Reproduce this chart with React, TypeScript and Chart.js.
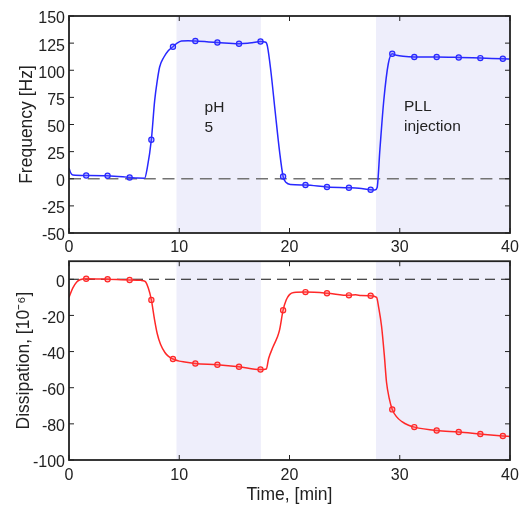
import React, { useEffect, useRef } from 'react';
import { Chart, registerables } from 'chart.js';
Chart.register(...registerables);

// ---------- data ----------
const xTicks = [0, 10, 20, 30, 40];
const freqTicks = [150, 125, 100, 75, 50, 25, 0, -25, -50];
const dissTicks = [0, -20, -40, -60, -80, -100];

const shadeStarts = [9.75, 27.85];
const shadeEnds = [17.4, 40];

const markerTime = [1.56, 3.5, 5.5, 7.47, 9.43, 11.46, 13.46, 15.42, 17.37, 19.42, 21.45, 23.4, 25.39, 27.36, 29.32, 31.32, 33.35, 35.35, 37.31, 39.35];

const freqTime = [0, 0.15, 0.35, 1.56, 3.5, 5.5, 6.2, 6.86, 7.1, 7.47, 7.77, 8.0, 8.22, 8.6, 9.0, 9.43, 9.8, 10.2, 10.8, 11.46, 13.46, 15.42, 16.2, 16.6, 17.37, 17.85, 18.0, 18.3, 18.7, 19.1, 19.42, 19.7, 20.1, 21.45, 23.4, 25.39, 26.3, 27.36, 27.75, 27.95, 28.2, 28.56, 28.96, 29.32, 29.7, 30.3, 31.32, 33.35, 35.35, 37.31, 39.35, 40];
const freqValues = [10, 5.5, 3.4, 3.0, 2.8, 1.2, 0.6, 0.5, 10, 36, 72, 90, 103, 112, 118, 121.7, 125, 127, 127.2, 126.9, 125.6, 124.4, 124.8, 125.3, 126.5, 125.8, 122, 100, 62, 25, 2.1, -3.5, -5.3, -5.8, -7.6, -8.3, -8.8, -10.1, -10.3, -8, 27, 73, 106, 115.2, 113.8, 112.8, 112.2, 112.2, 111.8, 111.2, 110.6, 110.4];
const freqMarkerValues = [3.0, 2.8, 1.2, 36, 121.7, 126.9, 125.6, 124.4, 126.5, 2.1, -5.8, -7.6, -8.3, -10.1, 115.2, 112.2, 112.2, 111.8, 111.2, 110.6];

const dissTime = [0, 0.35, 0.7, 1.0, 1.56, 3.5, 5.5, 6.5, 6.9, 7.2, 7.47, 7.75, 8.0, 8.3, 8.7, 9.0, 9.43, 10.0, 10.5, 11.46, 13.46, 15.42, 17.37, 17.9, 18.1, 18.5, 18.9, 19.1, 19.42, 19.7, 20.0, 20.4, 21.45, 23.4, 25.39, 26.0, 26.5, 27.36, 27.9, 28.1, 28.35, 28.6, 28.8, 29.05, 29.32, 29.7, 30.2, 30.8, 31.32, 33.35, 35.35, 37.31, 39.35, 40];
const dissValues = [-10, -4.8, -1.5, -0.3, 0.3, 0, -0.4, -0.6, -1.2, -5, -11.4, -22, -30, -36, -40.5, -42.5, -44.1, -45.3, -45.8, -46.6, -47.3, -48.4, -49.9, -49.6, -44, -37.5, -32, -28, -17.1, -11.5, -8.5, -7.3, -7.1, -7.7, -8.9, -8.6, -9.0, -9.1, -10, -16, -26, -42, -57, -66, -72, -76, -78.8, -80.8, -81.8, -83.7, -84.5, -85.6, -86.7, -87];
const dissMarkerValues = [0.3, 0, -0.4, -11.4, -44.1, -46.6, -47.3, -48.4, -49.9, -17.1, -7.1, -7.7, -8.9, -9.1, -72, -81.8, -83.7, -84.5, -85.6, -86.7];

const noteText = ['pH', '5', 'PLL', 'injection'];
const noteX = [12.3, 12.3, 30.38, 30.38];
const noteY = [65.4, 47, 66.4, 48];

// ---------- styles ----------
const FONT = 'Liberation Sans, Arial, Helvetica, sans-serif';
const TEXT = '#222';
const SHADE = 'rgb(238,238,251)';

type PanelCfg = {
  yTicks: number[];
  notes: boolean;
};

function panelPlugin(cfg: PanelCfg) {
  return {
    id: 'panelDeco',
    beforeDatasetsDraw(chart: any) {
      const { ctx, chartArea: a, scales } = chart;
      const x = scales.x;
      ctx.save();
      ctx.fillStyle = SHADE;
      for (let i = 0; i < shadeStarts.length; i++) {
        const x0 = Math.max(a.left, x.getPixelForValue(shadeStarts[i]));
        const x1 = Math.min(a.right, x.getPixelForValue(shadeEnds[i]));
        ctx.fillRect(x0, a.top, x1 - x0, a.bottom - a.top);
      }
      ctx.restore();
    },
    afterDatasetsDraw(chart: any) {
      if (!cfg.notes) return;
      const { ctx, scales } = chart;
      ctx.save();
      ctx.fillStyle = TEXT;
      ctx.font = `15.5px ${FONT}`;
      ctx.textAlign = 'left';
      ctx.textBaseline = 'middle';
      for (let i = 0; i < noteText.length; i++) {
        ctx.fillText(noteText[i], scales.x.getPixelForValue(noteX[i]), scales.y.getPixelForValue(noteY[i]));
      }
      ctx.restore();
    },
    afterDraw(chart: any) {
      const { ctx, chartArea: a, scales } = chart;
      ctx.save();
      ctx.strokeStyle = '#222';
      ctx.lineWidth = 1;
      const L = 5;
      ctx.beginPath();
      for (const v of xTicks) {
        const px = scales.x.getPixelForValue(v);
        ctx.moveTo(px, a.bottom); ctx.lineTo(px, a.bottom - L);
        ctx.moveTo(px, a.top); ctx.lineTo(px, a.top + L);
      }
      for (const v of cfg.yTicks) {
        const py = scales.y.getPixelForValue(v);
        ctx.moveTo(a.left, py); ctx.lineTo(a.left + L, py);
        ctx.moveTo(a.right, py); ctx.lineTo(a.right - L, py);
      }
      ctx.stroke();
      ctx.lineWidth = 1.8;
      ctx.strokeRect(a.left, a.top, a.right - a.left, a.bottom - a.top);
      ctx.restore();
    },
  };
}

function zeroPad(s: any) {
  s.paddingTop = 0; s.paddingBottom = 0; s.paddingLeft = 0; s.paddingRight = 0;
}

function buildConfig(opts: {
  time: number[]; values: number[]; markerValues: number[];
  color: string; fill: string; zeroColor: string; zeroWidth: number; zeroDash: number[];
  yMin: number; yMax: number; yTicks: number[]; yTitle: string; yTitlePad: number;
  padTop: number; xHeight: number; xPad: number; xTitle?: string; notes: boolean;
}) {
  return {
    type: 'line' as const,
    data: {
      datasets: [
        {
          data: [{ x: 0, y: 0 }, { x: 40, y: 0 }],
          borderColor: opts.zeroColor,
          borderWidth: opts.zeroWidth,
          borderDash: opts.zeroDash,
          pointRadius: 0,
          order: 3,
        },
        {
          data: opts.time.map((t, i) => ({ x: t, y: opts.values[i] })),
          borderColor: opts.color,
          borderWidth: 1.5,
          pointRadius: 0,
          cubicInterpolationMode: 'monotone',
          order: 2,
        },
        {
          data: markerTime.map((t, i) => ({ x: t, y: opts.markerValues[i] })),
          showLine: false,
          pointRadius: 2.6,
          pointBorderWidth: 1.2,
          pointBorderColor: opts.color,
          pointBackgroundColor: opts.fill,
          order: 1,
        },
      ],
    },
    options: {
      responsive: false,
      animation: false,
      events: [],
      layout: { padding: { left: 0, right: 9, top: opts.padTop, bottom: 0 } },
      plugins: { legend: { display: false }, tooltip: { enabled: false } },
      scales: {
        x: {
          type: 'linear',
          min: 0,
          max: 40,
          grid: { display: false, drawTicks: false },
          border: { display: false },
          ticks: { padding: opts.xPad, color: TEXT, font: { family: FONT, size: 16 }, maxRotation: 0 },
          title: opts.xTitle
            ? { display: true, text: opts.xTitle, color: TEXT, font: { family: FONT, size: 17.5 }, padding: { top: 0, bottom: 1.5 } }
            : { display: false },
          afterBuildTicks: (s: any) => { s.ticks = xTicks.map((v) => ({ value: v })); },
          afterFit: (s: any) => { s.height = opts.xHeight; zeroPad(s); },
        },
        y: {
          type: 'linear',
          min: opts.yMin,
          max: opts.yMax,
          grid: { display: false, drawTicks: false },
          border: { display: false },
          ticks: { padding: 4, labelOffset: 3, color: TEXT, font: { family: FONT, size: 16 } },
          title: { display: true, text: opts.yTitle, color: TEXT, font: { family: FONT, size: 17.5 }, padding: { top: opts.yTitlePad, bottom: 0 } },
          afterBuildTicks: (s: any) => { s.ticks = opts.yTicks.map((v) => ({ value: v })); },
          afterFit: (s: any) => { s.width = 69; zeroPad(s); },
        },
      },
    },
    plugins: [panelPlugin({ yTicks: opts.yTicks, notes: opts.notes })],
  };
}

export default function App() {
  const topRef = useRef<HTMLCanvasElement | null>(null);
  const botRef = useRef<HTMLCanvasElement | null>(null);

  useEffect(() => {
    const c1 = new Chart(topRef.current as HTMLCanvasElement, buildConfig({
      time: freqTime, values: freqValues, markerValues: freqMarkerValues,
      color: 'rgb(40,40,255)', fill: 'rgba(90,90,255,0.35)',
      zeroColor: 'rgb(115,115,115)', zeroWidth: 1.6, zeroDash: [12, 6.7],
      yMin: -50, yMax: 150, yTicks: freqTicks, yTitle: 'Frequency [Hz]', yTitlePad: 16.5,
      padTop: 16, xHeight: 23, xPad: 5.4, notes: true,
    }) as any);
    const c2 = new Chart(botRef.current as HTMLCanvasElement, buildConfig({
      time: dissTime, values: dissValues, markerValues: dissMarkerValues,
      color: 'rgb(255,40,40)', fill: 'rgba(255,90,90,0.35)',
      zeroColor: '#111', zeroWidth: 1.2, zeroDash: [10, 6],
      yMin: -100, yMax: 10, yTicks: dissTicks, yTitle: 'Dissipation, [10\u207B\u2076]', yTitlePad: 13.5,
      padTop: 1, xHeight: 47, xPad: 6.4, xTitle: 'Time, [min]', notes: false,
    }) as any);
    return () => { c1.destroy(); c2.destroy(); };
  }, []);

  return (
    <div style={{ position: 'absolute', left: 0, top: 0, width: 519, height: 507, background: '#fff' }}>
      <canvas ref={topRef} width={519} height={256} style={{ position: 'absolute', left: 0, top: 0 }} />
      <canvas ref={botRef} width={519} height={251} style={{ position: 'absolute', left: 0, top: 256 }} />
    </div>
  );
}
